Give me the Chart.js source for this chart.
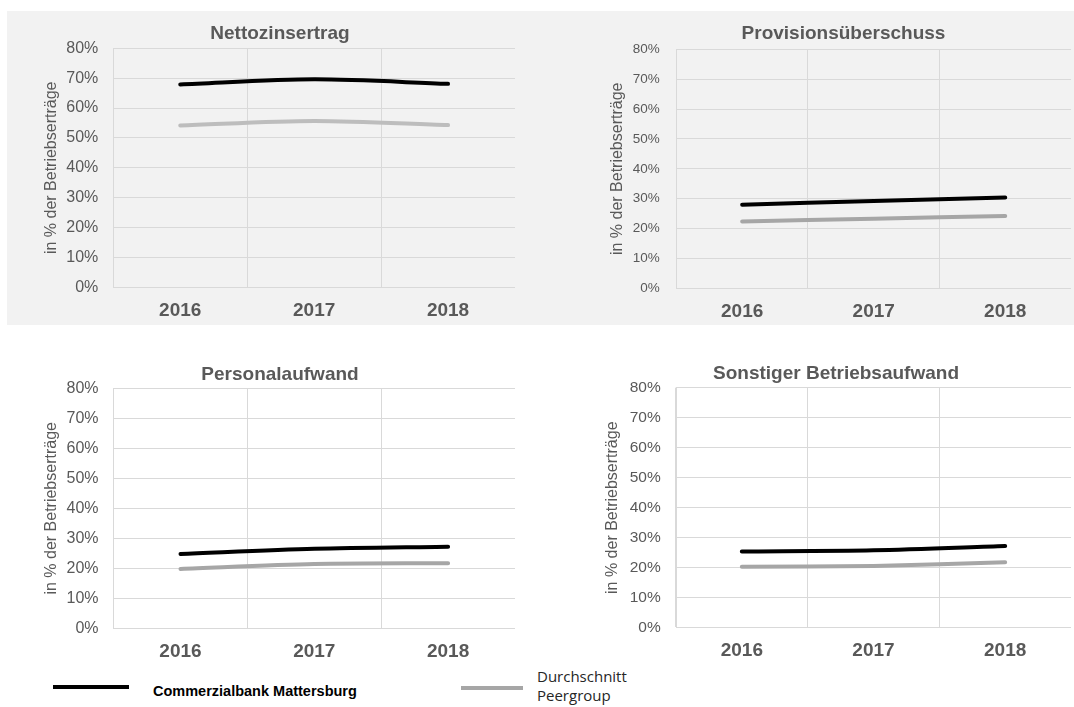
<!DOCTYPE html>
<html>
<head>
<meta charset="utf-8">
<script src="https://cdn.jsdelivr.net/npm/chart.js@4"></script>
<style>
  body { margin: 0; background: #ffffff; width: 1074px; height: 707px; position: relative; overflow: hidden; }
  #topBand { position: absolute; left: 7px; top: 11px; width: 1067px; height: 314px; background: #f2f2f2; }
  canvas { position: absolute; }
  .legLine { position: absolute; height: 4px; }
  .legText { position: absolute; white-space: normal; }
</style>
</head>
<body>
<div id="topBand"></div>
<canvas id="c1"></canvas>
<canvas id="c2"></canvas>
<canvas id="c3"></canvas>
<canvas id="c4"></canvas>

<div class="legLine" style="left:53px; top:685px; width:76px; background:#000000;"></div>
<div class="legText" id="leg1" style="left:153px; top:683px; font:bold 14.5px Arial, 'Liberation Sans', sans-serif; color:#000000; line-height:17px;"></div>
<div class="legLine" style="left:461px; top:686px; width:62px; background:#a6a6a6;"></div>
<div class="legText" id="leg2" style="left:537px; top:667px; width:100px; font:15px 'Open Sans', sans-serif; color:#262626; line-height:19.3px;"></div>

<script>
// categories and series
const years = ['2016', '2017', '2018'];
const seriesNames = ['Commerzialbank Mattersburg', 'Durchschnitt Peergroup'];
const panelTitles = ['Nettozinsertrag', 'Provisionsüberschuss', 'Personalaufwand', 'Sonstiger Betriebsaufwand'];
const yAxisTitle = 'in % der Betriebserträge';

// values in % of operating income
const bankNetInterest = [67.9, 69.6, 68.1];
const peerNetInterest = [54.2, 55.7, 54.3];
const bankCommission = [28.0, 29.2, 30.4];
const peerCommission = [22.4, 23.3, 24.2];
const bankStaffCost = [24.8, 26.5, 27.2];
const peerStaffCost = [19.8, 21.4, 21.7];
const bankOtherCost = [25.4, 25.8, 27.2];
const peerOtherCost = [20.3, 20.6, 21.8];

// y ticks 0% .. 80%
const yMin = 0, yMax = 80, yStep = 10;

document.getElementById('leg1').textContent = seriesNames[0];
document.getElementById('leg2').textContent = seriesNames[1];

const FONT = "Arial, 'Liberation Sans', sans-serif";
const TITLE_SIZE = 19;
const XLAB_SIZE = 19;

function makePanel(id, title, bank, peer, peerColor, box) {
    // box: where the plot, titles and labels sit on the page
    const A = 2 * box.titleX - box.plotRight;   // left edge of the full-width title box
    const L = A - 20;
    const W = box.plotRight - L;
    const H = box.bottom - box.top;
    const canvas = document.getElementById(id);
    canvas.width = W;
    canvas.height = H;
    canvas.style.left = L + 'px';
    canvas.style.top = box.top + 'px';

    const titleLH = TITLE_SIZE * 1.2;
    const padTop = box.titleY - box.top - titleLH / 2 - 2;
    const titleBottom = box.plotTop - box.top - padTop - 2 - titleLH;
    const yWidth = box.plotLeft - A;
    const xHeight = box.bottom - box.plotBottom;

    return new Chart(canvas, {
        type: 'line',
        data: {
            labels: years,
            datasets: [
                { label: seriesNames[0], data: bank, borderColor: '#000000', borderWidth: 4 },
                { label: seriesNames[1], data: peer, borderColor: peerColor, borderWidth: 4 }
            ]
        },
        options: {
            responsive: false,
            animation: false,
            devicePixelRatio: 1,
            layout: { padding: { left: 20, right: 0, top: padTop, bottom: 0 } },
            elements: {
                point: { radius: 0, hoverRadius: 0 },
                line: { tension: 0.3, borderCapStyle: 'round', borderJoinStyle: 'round', fill: false }
            },
            plugins: {
                legend: { display: false },
                tooltip: { enabled: false },
                title: {
                    display: true,
                    text: title,
                    color: '#595959',
                    font: { family: FONT, size: TITLE_SIZE, weight: 'bold', lineHeight: 1.2 },
                    padding: { top: 2, bottom: titleBottom }
                }
            },
            scales: {
                x: {
                    offset: true,
                    grid: { offset: true, color: '#d9d9d9', lineWidth: 1, drawTicks: false },
                    border: { display: true, color: '#d9d9d9' },
                    ticks: {
                        color: '#595959',
                        padding: box.labelY - box.plotBottom - XLAB_SIZE * 0.6,
                        font: { family: FONT, size: XLAB_SIZE, weight: 'bold', lineHeight: 1.2 },
                        maxRotation: 0
                    },
                    afterFit: (s) => { s.height = xHeight; }
                },
                y: {
                    min: yMin,
                    max: yMax,
                    grid: { color: '#d9d9d9', lineWidth: 1, drawTicks: false },
                    border: { display: true, color: '#d9d9d9' },
                    ticks: {
                        stepSize: yStep,
                        color: '#595959',
                        padding: box.tickGap,
                        font: { family: FONT, size: box.tickSize },
                        callback: (v) => v + '%'
                    },
                    title: {
                        display: true,
                        text: yAxisTitle,
                        color: '#595959',
                        font: { family: FONT, size: 16, lineHeight: 1 },
                        padding: { top: (box.yTitleX - A) - 8, bottom: 0 }
                    },
                    afterFit: (s) => { s.width = yWidth; }
                }
            }
        }
    });
}

makePanel('c1', panelTitles[0], bankNetInterest, peerNetInterest, '#bdbdbd', {
    plotLeft: 113.3, plotRight: 515, plotTop: 48.3, plotBottom: 287.3,
    titleX: 280, titleY: 33.5, yTitleX: 51.7, labelY: 310.7,
    top: 11, bottom: 325, tickSize: 16, tickGap: 15
});
makePanel('c2', panelTitles[1], bankCommission, peerCommission, '#a6a6a6', {
    plotLeft: 676.7, plotRight: 1071.7, plotTop: 49.3, plotBottom: 288.3,
    titleX: 844, titleY: 34, yTitleX: 618, labelY: 311.5,
    top: 11, bottom: 325, tickSize: 13.5, tickGap: 16.7
});
makePanel('c3', panelTitles[2], bankStaffCost, peerStaffCost, '#a6a6a6', {
    plotLeft: 113.3, plotRight: 515.3, plotTop: 388.3, plotBottom: 628.3,
    titleX: 280, titleY: 375, yTitleX: 51.7, labelY: 651.7,
    top: 345, bottom: 665, tickSize: 16, tickGap: 15
});
makePanel('c4', panelTitles[3], bankOtherCost, peerOtherCost, '#a6a6a6', {
    plotLeft: 676, plotRight: 1071, plotTop: 387.7, plotBottom: 627.7,
    titleX: 836, titleY: 373.3, yTitleX: 613, labelY: 650.5,
    top: 345, bottom: 665, tickSize: 15.5, tickGap: 15.3
});
</script>
</body>
</html>
